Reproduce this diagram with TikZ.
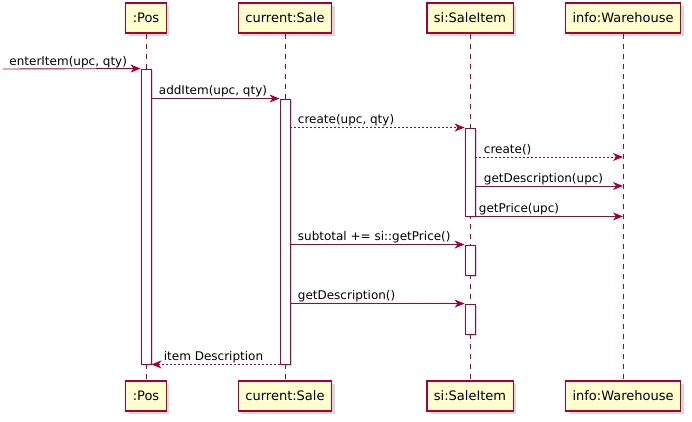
\documentclass[tikz,border=0pt]{standalone}
\usepackage{fontspec}
\setmainfont{DejaVu Sans}
\usetikzlibrary{arrows.meta,shadows}
\definecolor{umlred}{HTML}{A80036}
\definecolor{umlbox}{HTML}{FEFECE}
\tikzset{
  actor/.style={draw=umlred, fill=umlbox, line width=1.2pt, minimum height=30pt,
    inner xsep=7pt, font=\fontsize{13}{15}\selectfont,
    drop shadow={shadow xshift=3pt, shadow yshift=-3pt, opacity=.3}},
  lifeline/.style={draw=umlred, line width=0.8pt, dash pattern=on 5pt off 5pt},
  activation/.style={draw=umlred, fill=white, line width=0.9pt, minimum width=10pt,
    inner sep=0pt, drop shadow={shadow xshift=2pt, shadow yshift=-2pt, opacity=.3}},
  call/.style={draw=umlred, line width=0.9pt, -{Stealth[length=10pt, width=8pt, inset=3pt]}},
  reply/.style={call, dash pattern=on 2pt off 2pt},
  msg/.style={anchor=base west, inner sep=0pt, yshift=4pt, font=\fontsize{12}{14}\selectfont}
}
\begin{document}
\begin{tikzpicture}[x=1pt, y=-1pt]
  \useasboundingbox (0,0) rectangle (692,421);
  \foreach \n/\x/\t in {pos/146/{:Pos}, sale/285/{current:Sale}, item/470/{si:SaleItem}, wh/623/{info:Warehouse}} {
    \node[actor] (\n) at (\x,18) {\t};
    \node[actor] (\n bot) at (\x,396) {\t};
    \draw[lifeline] (\n.south) -- (\n bot.north);
  }

  % activation bars
  \node[activation, minimum height=295pt] (pa) at (146,216.5) {};
  \node[activation, minimum height=265pt] (sa) at (285,231.5) {};
  \node[activation, minimum height=88pt] (ia1) at (470,172) {};
  \node[activation, minimum height=30pt] (ia2) at (470,260) {};
  \node[activation, minimum height=30pt] (ia3) at (470,319) {};

  \coordinate (in) at (3,69);
  \draw[call] (in) -- (pa.north west) node[msg, pos=0, xshift=6pt] {enterItem(upc, qty)};
  \draw[call] (pa.east |- sa.north) -- (sa.north west) node[msg, pos=0, xshift=7pt] {addItem(upc, qty)};
  \draw[reply] (sa.east |- ia1.north) -- (ia1.north west) node[msg, pos=0, xshift=7pt] {create(upc, qty)};
  \draw[reply] (ia1.east |- 0,157) -- (wh |- 0,157) node[msg, pos=0, xshift=8pt] {create()};
  \draw[call] (ia1.east |- 0,186) -- (wh |- 0,186) node[msg, pos=0, xshift=8pt] {getDescription(upc)};
  \draw[call] (ia1.south east) -- (wh |- ia1.south) node[msg, pos=0, xshift=3pt] {getPrice(upc)};
  \draw[call] (sa.east |- ia2.north) -- (ia2.north west) node[msg, pos=0, xshift=7pt] {subtotal += si::getPrice()};
  \draw[call] (sa.east |- ia3.north) -- (ia3.north west) node[msg, pos=0, xshift=7pt] {getDescription()};
  \draw[reply] (sa.south west) -- (pa.south east) node[msg, pos=1, xshift=12pt] {item Description};
\end{tikzpicture}
\end{document}
